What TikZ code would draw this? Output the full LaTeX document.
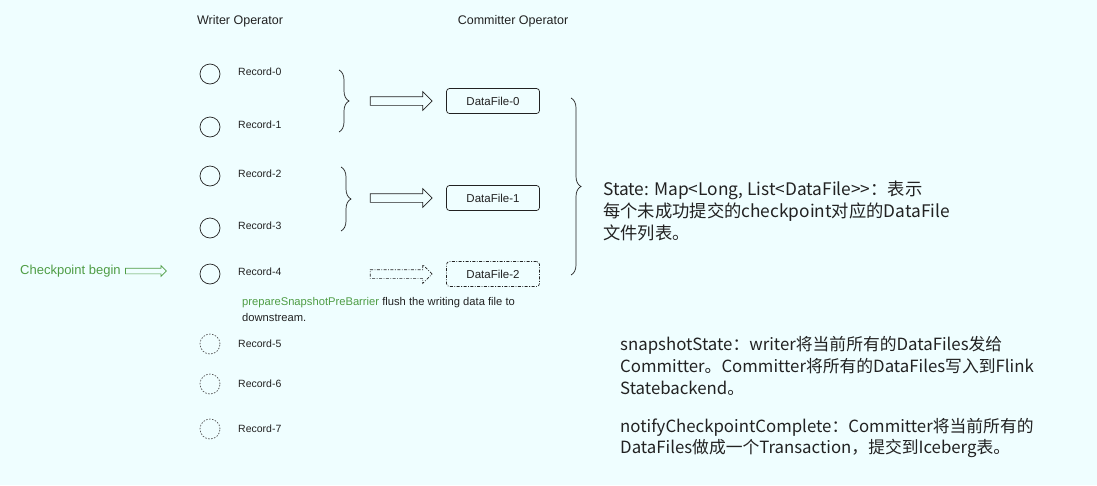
\documentclass[tikz,border=0pt]{standalone}
\usepackage{fontspec}
\setmainfont{Liberation Sans}
\newfontfamily\cjk{Noto Sans CJK SC}
\usetikzlibrary{decorations.pathreplacing,shapes.arrows}
\definecolor{Canvas}{HTML}{EFFEFF}
\definecolor{Ink}{HTML}{222222}
\definecolor{Leaf}{HTML}{4F9D45}
\definecolor{Rim}{HTML}{555555}

\begin{document}
\begin{tikzpicture}[x=1pt,y=-1pt, font=\fontsize{10.5}{13}\selectfont, text=Ink]
  \tikzset{rec/.style={circle,draw=Ink,line width=0.7pt,minimum size=20pt,inner sep=0pt},
           pending/.style={rec,draw=Rim,dash pattern=on 1.5pt off 1.5pt},
           lbl/.style={anchor=west,inner sep=0pt},
           file/.style={draw=Ink,rounded corners=3pt,minimum width=93pt,minimum height=25pt,line width=0.7pt,font=\fontsize{11.5}{13}\selectfont},
           flow/.style={single arrow,draw=Ink,line width=0.7pt,minimum height=62pt,inner xsep=0pt,inner ysep=4pt,single arrow head extend=5pt},
           grp/.style={decorate,decoration={brace,amplitude=10pt},draw=Ink,line width=0.7pt},
           note/.style={anchor=base west,align=left,inner sep=0pt,font=\cjk\fontsize{16.8}{22}\selectfont}}
  \fill[Canvas] (0,0) rectangle (1097,485);
  \useasboundingbox (0,0) rectangle (1097,485);
  % column titles
  \node[font=\fontsize{12.5}{14}\selectfont] (wtitle) at (240,21) {Writer Operator};
  \node[font=\fontsize{12.5}{14}\selectfont] (ctitle) at (513,21) {Committer Operator};
  % records
  \foreach \i/\y in {0/74,1/127,2/176,3/228,4/274}{
    \node[rec] (c\i) at (210,\y) {};
    \node[lbl] (r\i) at (238,\y-2) {Record-\i};}
  \foreach \i/\y in {5/344,6/384,7/429}{
    \node[pending] (c\i) at (210,\y) {};
    \node[lbl] (r\i) at (238,\y) {Record-\i};}
  % data files
  \node[file] (f0) at (493,101) {DataFile-0};
  \node[file] (f1) at (493,198) {DataFile-1};
  \node[file,dash pattern=on 3pt off 1.5pt on 0.8pt off 1.5pt] (f2) at (493,274) {DataFile-2};
  \node[flow] (a0) at (399,101) {};
  \node[flow] (a1) at (399,198) {};
  \node[flow,dash pattern=on 3pt off 1.5pt on 0.8pt off 1.5pt] (a2) at (399,274) {};
  \draw[grp] (339,70) -- (339,132);
  \draw[grp] (341,167) -- (341,231);
  \draw[grp] (571,98) -- (571,275);
  % checkpoint
  \node[lbl,text=Leaf,font=\fontsize{13}{15}\selectfont] (cp) at (20,271) {Checkpoint begin};
  \node[single arrow,draw=Leaf,line width=0.7pt,minimum height=41pt,inner xsep=0pt,inner ysep=2.5pt,single arrow head extend=2.5pt] (cpa) at (144.5,271) {};
  \node[anchor=north west,align=left,inner sep=0pt,font=\fontsize{11.2}{16}\selectfont] (prep) at (242,297)
    {{\color{Leaf}prepareSnapshotPreBarrier} flush the writing data file to\\downstream.};
  % notes
  \node[note,font=\cjk\fontsize{17.3}{22}\selectfont] (state) at (603,239) {State: Map<Long, List<DataFile>>：表示\\每个未成功提交的checkpoint对应的DataFile\\文件列表。};
  \node[note] (snap) at (620,394) {snapshotState：writer将当前所有的DataFiles发给\\Committer。Committer将所有的DataFiles写入到Flink\\Statebackend。};
  \node[note,font=\cjk\fontsize{16.8}{21}\selectfont] (notify) at (620,453) {notifyCheckpointComplete：Committer将当前所有的\\DataFiles做成一个Transaction，提交到Iceberg表。};
\end{tikzpicture}
\end{document}
